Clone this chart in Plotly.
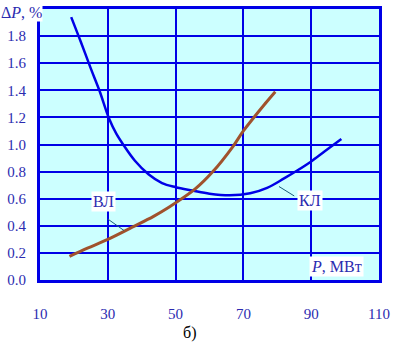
import plotly.graph_objects as go

# КЛ (cable line) curve
kl_x = [19.2, 22, 25, 27.5, 30.4, 32.5, 34.8, 38, 42, 46, 50, 55, 60, 66, 72, 77, 82, 86, 90, 94, 98.9]
kl_y = [1.94, 1.76, 1.56, 1.40, 1.19, 1.08, 0.99, 0.88, 0.78, 0.715, 0.685, 0.66, 0.637, 0.625, 0.64, 0.68, 0.75, 0.81, 0.875, 0.95, 1.04]

# ВЛ (overhead line) curve
vl_x = [18.7, 24, 30, 37.2, 43.5, 47.9, 55.7, 61.0, 66.9, 70.0, 76.7, 79.4]
vl_y = [0.175, 0.235, 0.30, 0.39, 0.47, 0.535, 0.67, 0.80, 0.985, 1.10, 1.31, 1.39]

x_ticks = [10, 30, 50, 70, 90, 110]
y_ticks = [0.0, 0.2, 0.4, 0.6, 0.8, 1.0, 1.2, 1.4, 1.6, 1.8]

label_color = "#2b2bb0"
font_fam = "Liberation Serif"

fig = go.Figure()
fig.add_trace(go.Scatter(x=kl_x, y=kl_y, mode="lines", line=dict(color="#0000e6", width=2.5, shape="spline", smoothing=1), hoverinfo="skip"))
fig.add_trace(go.Scatter(x=vl_x, y=vl_y, mode="lines", line=dict(color="#a0522d", width=3, shape="spline", smoothing=1), hoverinfo="skip"))

# leader lines
fig.add_trace(go.Scatter(x=[30, 34.8], y=[0.45, 0.365], mode="lines", line=dict(color="#1a5a7a", width=1), hoverinfo="skip"))
fig.add_trace(go.Scatter(x=[80.5, 85], y=[0.69, 0.62], mode="lines", line=dict(color="#1a5a7a", width=1), hoverinfo="skip"))

fig.add_annotation(x=28.7, y=0.58, text="ВЛ", showarrow=False, bgcolor="white",
                   font=dict(family=font_fam, size=16, color=label_color), borderpad=1)
fig.add_annotation(x=89.6, y=0.59, text="КЛ", showarrow=False, bgcolor="white",
                   font=dict(family=font_fam, size=16, color=label_color), borderpad=1)
fig.add_annotation(x=97.5, y=0.10, text="<i>P</i>, МВт", showarrow=False, bgcolor="white",
                   font=dict(family=font_fam, size=16, color=label_color), borderpad=1)
fig.add_annotation(xref="paper", yref="paper", x=0, y=1, xshift=-40, yshift=6,
                   xanchor="left", yanchor="top", text="Δ<i>P</i>, %", showarrow=False,
                   bgcolor="white", font=dict(family=font_fam, size=16, color=label_color), borderpad=0)
fig.add_annotation(xref="paper", yref="paper", x=0.44, y=0, yshift=-64, xanchor="center", yanchor="bottom",
                   text="б)", showarrow=False, font=dict(family=font_fam, size=16, color="black"))

fig.update_xaxes(range=[10, 110], tickvals=x_ticks, ticktext=[str(v) for v in x_ticks],
                 showgrid=True, gridcolor="#0000e6", gridwidth=1.5, zeroline=False,
                 showline=True, linecolor="#0000e6", linewidth=3, mirror=True,
                 ticks="", ticklabelstandoff=18,
                 tickfont=dict(family=font_fam, size=15, color=label_color))
fig.update_yaxes(range=[0, 2.0], tickvals=y_ticks, ticktext=[f"{v:.1f}" for v in y_ticks],
                 showgrid=True, gridcolor="#0000e6", gridwidth=1.5, zeroline=False,
                 showline=True, linecolor="#0000e6", linewidth=3, mirror=True,
                 ticks="", ticklabelstandoff=8,
                 tickfont=dict(family=font_fam, size=15, color=label_color))

fig.update_layout(width=396, height=344, margin=dict(l=40, r=13, t=6, b=64),
                  plot_bgcolor="#ccffff", paper_bgcolor="white", showlegend=False)

fig.write_html("out.html", config={"displayModeBar": False},
               post_script="document.body.style.margin='0';document.body.style.overflow='hidden';")
